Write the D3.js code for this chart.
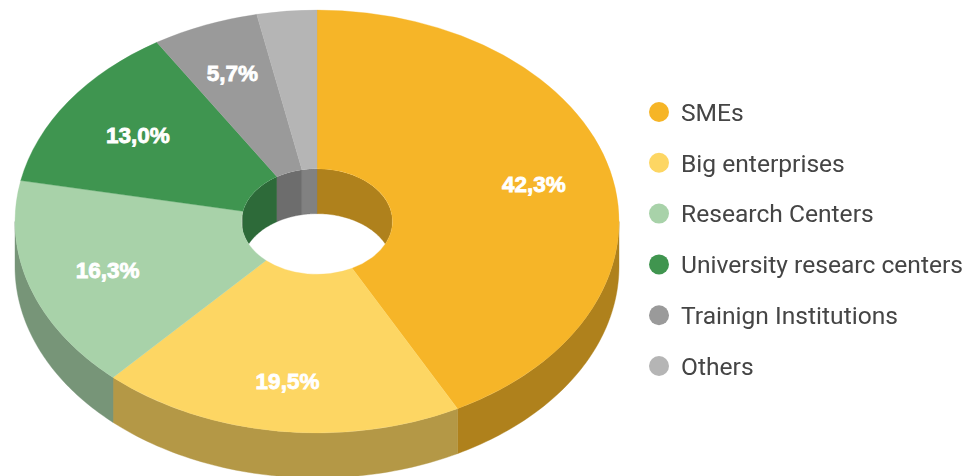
<!DOCTYPE html>
<html>
<head>
<meta charset="utf-8">
<script src="https://cdn.jsdelivr.net/npm/d3@7"></script>
<style>
    html, body { margin: 0; padding: 0; background: #fff; }
    svg { display: block; }
</style>
</head>
<body>
<svg id="chart"></svg>
<script>
const categories = ["SMEs", "Big enterprises", "Research Centers", "University researc centers", "Trainign Institutions", "Others"];
const shares = [42.3, 19.5, 16.3, 13.0, 5.7, 3.2];
const labelled = [true, true, true, true, true, false];
const colors = ["#f6b528", "#fdd663", "#a8d2a9", "#3f9550", "#9a9a9a", "#b5b5b5"];

const width = 969, height = 476;
const cx = 317, cy = 221.5;
const radius = 302, squash = 0.7, depth = 45, holeRatio = 0.25;
const holeRadius = radius * holeRatio;
// how far out each percent label sits, as a share of the radius
const labelRadius = [0.74, 0.76, 0.73, 0.72, 0.755, 0];

const svg = d3.select("#chart").attr("width", width).attr("height", height);

// soft edges, the legend in the picture is a bit blurry
const defs = svg.append("defs");
defs.append("filter").attr("id", "soft")
    .append("feGaussianBlur").attr("stdDeviation", 0.45);
defs.append("clipPath").attr("id", "hole")
    .append("ellipse")
    .attr("cx", cx).attr("cy", cy)
    .attr("rx", holeRadius).attr("ry", holeRadius * squash);

const wallColor = c => {
    const rgb = d3.rgb(c);
    return d3.rgb(rgb.r * 0.71, rgb.g * 0.71, rgb.b * 0.71).formatHex();
};

const slices = d3.pie().sort(null).value(d => d)(shares)
    .map((s, i) => ({...s, i}));

// point on the tilted ring, angle clockwise from the top
const onRing = (r, a, drop) => [cx + r * Math.sin(a), cy - r * squash * Math.cos(a) + drop];

// band between a ring arc and the same arc moved down by the depth
function wallPath(r, a0, a1) {
    const angles = d3.range(0, 61).map(k => a0 + (a1 - a0) * k / 60);
    const pts = angles.map(a => onRing(r, a, 0))
        .concat(angles.slice().reverse().map(a => onRing(r, a, depth)));
    return d3.line()(pts) + "Z";
}

const tau = Math.PI * 2;

// outer wall: only the front half can be seen
const outerWalls = svg.append("g").attr("class", "outer-walls");
slices.forEach(s => {
    const a0 = Math.max(s.startAngle, tau / 4), a1 = Math.min(s.endAngle, tau * 3 / 4);
    if (a1 <= a0) return;
    const c = wallColor(colors[s.i]);
    outerWalls.append("path").attr("d", wallPath(radius, a0, a1))
        .attr("fill", c).attr("stroke", c).attr("stroke-width", 0.4);
});

// inner wall: only the back half can be seen, through the hole
const innerWalls = svg.append("g").attr("class", "inner-walls").attr("clip-path", "url(#hole)");
slices.forEach(s => {
    [[s.startAngle, Math.min(s.endAngle, tau / 4)], [Math.max(s.startAngle, tau * 3 / 4), s.endAngle]]
        .forEach(([a0, a1]) => {
            if (a1 <= a0) return;
            const c = wallColor(colors[s.i]);
            innerWalls.append("path").attr("d", wallPath(holeRadius, a0, a1))
                .attr("fill", c).attr("stroke", c).attr("stroke-width", 0.4);
        });
});

// top face
const arc = d3.arc().innerRadius(holeRadius).outerRadius(radius);
svg.append("g")
    .attr("class", "top")
    .attr("transform", `translate(${cx},${cy}) scale(1,${squash})`)
    .selectAll("path")
    .data(slices)
    .join("path")
    .attr("d", arc)
    .attr("fill", d => colors[d.i])
    .attr("stroke", d => colors[d.i])
    .attr("stroke-width", 0.4);

// percent labels, comma as decimal mark
const fmt = d3.formatLocale({decimal: ",", thousands: ".", grouping: [3], currency: ["", ""]}).format(".1f");
const labelPos = d => d3.arc().innerRadius(radius * labelRadius[d.i]).outerRadius(radius * labelRadius[d.i]).centroid(d);
svg.append("g")
    .attr("class", "labels")
    .selectAll("text")
    .data(slices.filter(d => labelled[d.i]))
    .join("text")
    .attr("x", d => cx + labelPos(d)[0])
    .attr("y", d => cy + labelPos(d)[1] * squash)
    .attr("dy", "0.36em")
    .attr("text-anchor", "middle")
    .attr("font-family", "'Liberation Sans', Arial, sans-serif")
    .attr("font-weight", "bold")
    .attr("font-size", "22.5px")
    .attr("fill", "#fff")
    .attr("stroke", "#fff")
    .attr("stroke-width", 0.8)
    .text(d => fmt(d.value) + "%");

// legend
const legendY = d3.scalePoint().domain(categories).range([112, 366]);
const legend = svg.append("g").attr("class", "legend").attr("filter", "url(#soft)")
    .selectAll("g")
    .data(categories)
    .join("g")
    .attr("transform", d => `translate(659,${legendY(d)})`);
legend.append("circle")
    .attr("r", 10)
    .attr("fill", (d, i) => colors[i]);
legend.append("text")
    .attr("x", 22)
    .attr("dy", "0.36em")
    .attr("font-family", "Roboto, sans-serif")
    .attr("font-size", "24.6px")
    .attr("fill", "#444")
    .text(d => d);
</script>
</body>
</html>
